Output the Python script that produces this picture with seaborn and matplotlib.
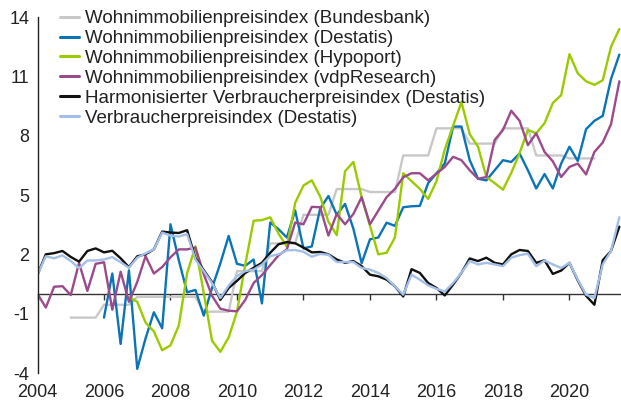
import numpy as np
import pandas as pd
import matplotlib
matplotlib.use("Agg")
import matplotlib.pyplot as plt
import seaborn as sns
from matplotlib.lines import Line2D

# ---------------- data (quarterly, 2004Q1 .. 2021Q3) ----------------
quarters = pd.period_range("2004Q1", "2021Q3", freq="Q")
nan = np.nan

bundesbank = [nan, nan, nan, nan,
              -1.2, -1.2, -1.2, -1.2,
              -0.55, -0.55, -0.55, -0.55,
              -0.15, -0.15, -0.15, -0.15,
              -0.15, -0.15, -0.15, -0.15,
              -0.9, -0.9, -0.9, -0.9,
              1.15, 1.15, 1.15, 1.15,
              2.55, 2.55, 2.55, 2.55,
              4.0, 4.0, 4.0, 4.0,
              5.3, 5.3, 5.3, 5.3,
              5.15, 5.15, 5.15, 5.15,
              7.0, 7.0, 7.0, 7.0,
              8.37, 8.37, 8.37, 8.37,
              7.6, 7.6, 7.6, 7.6,
              8.37, 8.37, 8.37, 8.37,
              7.0, 7.0, 7.0, 7.0,
              6.85, 6.85, 6.85, 6.85,
              nan, nan, nan]

destatis = [nan, nan, nan, nan, nan, nan, nan, nan,
            -1.2, 1.03, -2.53, 1.19, -3.79, -2.25, -0.93, -1.74,
            3.52, 1.7, 0.08, 0.2, -1.1, 0.3, 1.55, 2.93,
            1.52, 1.42, 1.74, -0.48, 3.61, 3.27, 2.85, 4.22,
            2.3, 2.4, 4.3, 4.95, 4.0, 4.55, 3.3, 1.55,
            2.76, 2.85, 3.6, 3.44, 4.38, 4.43, 4.45, 5.6,
            6.1, 6.6, 8.46, 8.46, 6.76, 5.82, 5.74, 6.25,
            6.76, 6.67, 7.1, 6.25, 5.33, 6.06, 5.33, 6.59,
            7.44, 6.72, 8.33, 8.75, 9.0, 10.87, 12.1]

hypoport = [nan, nan, nan, nan, nan, nan, nan, nan, nan, nan, nan,
            -0.15, -0.4, -1.45, -1.9, -2.85,
            -2.6, -1.6, 1.05, 2.4, 0.05, -2.37, -2.93, -2.2,
            -0.9, 1.5, 3.7, 3.73, 3.87, 3.05, 2.38, 4.6,
            5.48, 5.74, 4.93, 3.65, 2.97, 6.2, 6.67, 4.89,
            3.44, 2.0, 2.08, 2.85, 6.1, 5.7, 5.31, 4.8,
            5.7, 7.3, 8.5, 9.7, 8.08, 7.44, 5.91, 5.6,
            5.27, 6.12, 7.12, 8.29, 8.12, 8.63, 9.65, 10.05,
            12.12, 11.15, 10.75, 10.57, 10.8, 12.5, 13.39]

vdp = [0.0, -0.69, 0.36, 0.39, -0.06, 1.57, 0.15, 1.52,
       1.6, -0.8, 1.12, -0.4, 0.6, 1.91, 1.03, 1.36,
       1.85, 2.25, 2.25, 2.35, 1.0, -0.1, -0.75, -0.85,
       -0.88, -0.3, 0.55, 0.95, 1.45, 1.95, 2.25, 3.61,
       3.52, 4.4, 4.38, 2.95, 4.04, 3.52, 4.04, 4.89,
       3.52, 4.21, 4.89, 5.31, 5.9, 6.1, 6.1, 5.74,
       6.08, 6.42, 6.93, 6.76, 6.25, 5.82, 5.91, 7.78,
       8.29, 9.26, 8.75, 7.52, 8.12, 7.18, 6.7, 5.91,
       6.42, 6.59, 6.04, 7.18, 7.65, 8.58, 10.75]

hvpi = [0.97, 2.0, 2.06, 2.17, 1.87, 1.63, 2.17, 2.3,
        2.1, 2.18, 1.8, 1.35, 1.9, 2.0, 2.25, 3.15,
        3.1, 3.08, 3.22, 1.8, 1.2, 0.6, -0.3, 0.3,
        0.66, 1.06, 1.32, 1.57, 2.08, 2.51, 2.62, 2.56,
        2.34, 2.1, 2.12, 2.0, 1.74, 1.57, 1.66, 1.4,
        0.97, 0.89, 0.72, 0.38, -0.13, 1.25, 1.06, 0.55,
        0.3, -0.08, 0.47, 1.06, 1.79, 1.66, 1.83, 1.57,
        1.49, 2.0, 2.22, 2.17, 1.57, 1.7, 1.01, 1.18,
        1.57, 0.68, -0.1, -0.55, 1.7, 2.17, 3.4]

vpi = [0.97, 1.9, 1.8, 1.95, 1.66, 1.3, 1.69, 1.69,
       1.74, 1.86, 1.6, 1.32, 1.83, 2.05, 2.25, 3.1,
       2.95, 2.9, 3.02, 1.74, 1.15, 0.55, -0.21, 0.42,
       0.9, 1.15, 1.23, 1.48, 1.91, 2.0, 2.2, 2.22,
       2.13, 1.88, 2.02, 1.98, 1.61, 1.61, 1.61, 1.31,
       1.23, 1.06, 0.8, 0.38, -0.04, 0.97, 0.72, 0.43,
       0.26, 0.12, 0.55, 1.06, 1.66, 1.49, 1.57, 1.49,
       1.4, 1.83, 1.96, 2.03, 1.4, 1.69, 1.49, 1.31,
       1.57, 0.72, -0.04, -0.21, 1.49, 2.17, 3.87]

series_names = [
    "Wohnimmobilienpreisindex (Bundesbank)",
    "Wohnimmobilienpreisindex (Destatis)",
    "Wohnimmobilienpreisindex (Hypoport)",
    "Wohnimmobilienpreisindex (vdpResearch)",
    "Harmonisierter Verbraucherpreisindex (Destatis)",
    "Verbraucherpreisindex (Destatis)",
]
series_values = [bundesbank, destatis, hypoport, vdp, hvpi, vpi]
colors = ["#c8c8c8", "#0a74b6", "#9acb00", "#9b4a8b", "#111111", "#a3bfe8"]

year_ticks = [2004, 2006, 2008, 2010, 2012, 2014, 2016, 2018, 2020]
y_ticks = [-4, -1, 2, 5, 8, 11, 14]

# ---------------- build long table ----------------
t = quarters.year + (quarters.quarter - 1) / 4.0
frames = []
for name, vals in zip(series_names, series_values):
    frames.append(pd.DataFrame({"t": t, "value": vals, "series": name}))
df = pd.concat(frames, ignore_index=True).dropna()

# ---------------- figure ----------------
sns.set_style("white")
plt.rcParams["font.family"] = ["Liberation Sans", "DejaVu Sans"]

fig = plt.figure(figsize=(6.21, 4.0), dpi=100)
ax = fig.add_axes([37.5 / 621, 27 / 400, (621 - 37.5) / 621, 356 / 400])

sns.lineplot(data=df, x="t", y="value", hue="series", hue_order=series_names,
             palette=dict(zip(series_names, colors)), linewidth=1.7,
             legend=False, ax=ax, estimator=None, sort=True)

ax.set_xlim(2004, 2021.55)
ax.set_ylim(-4, 14)
ax.set_xlabel("")
ax.set_ylabel("")

for s in ["top", "right", "bottom"]:
    ax.spines[s].set_visible(False)
ax.spines["left"].set_color("#222222")
ax.spines["left"].set_linewidth(1.0)

ax.set_yticks(y_ticks)
ax.set_yticklabels([str(v) for v in y_ticks])
ax.set_xticks(year_ticks)
ax.set_xticklabels([str(v) for v in year_ticks])
ax.tick_params(axis="both", labelsize=13, colors="#222222", length=0)
ax.tick_params(axis="y", pad=6)
ax.tick_params(axis="x", pad=8)

# zero line with downward ticks
sec = ax.secondary_xaxis(4 / 18)
sec.set_xticks(year_ticks)
sec.set_xticklabels([])
sec.tick_params(axis="x", length=4, width=1.0, direction="out", color="#333333")
sec.spines["bottom"].set_color("#333333")
sec.spines["bottom"].set_linewidth(1.0)

# legend
handles = [Line2D([0], [0], color=c, lw=2.2) for c in colors]
leg = fig.legend(handles, series_names, loc="upper left",
                 bbox_to_anchor=(60 / 621, 1 - 10 / 400), bbox_transform=fig.transFigure,
                 frameon=False, fontsize=13.5, handlelength=1.0, handletextpad=0.33,
                 labelspacing=0.15, borderpad=0, borderaxespad=0)
for txt in leg.get_texts():
    txt.set_color("#222222")

fig.savefig("out.png", dpi=100)
